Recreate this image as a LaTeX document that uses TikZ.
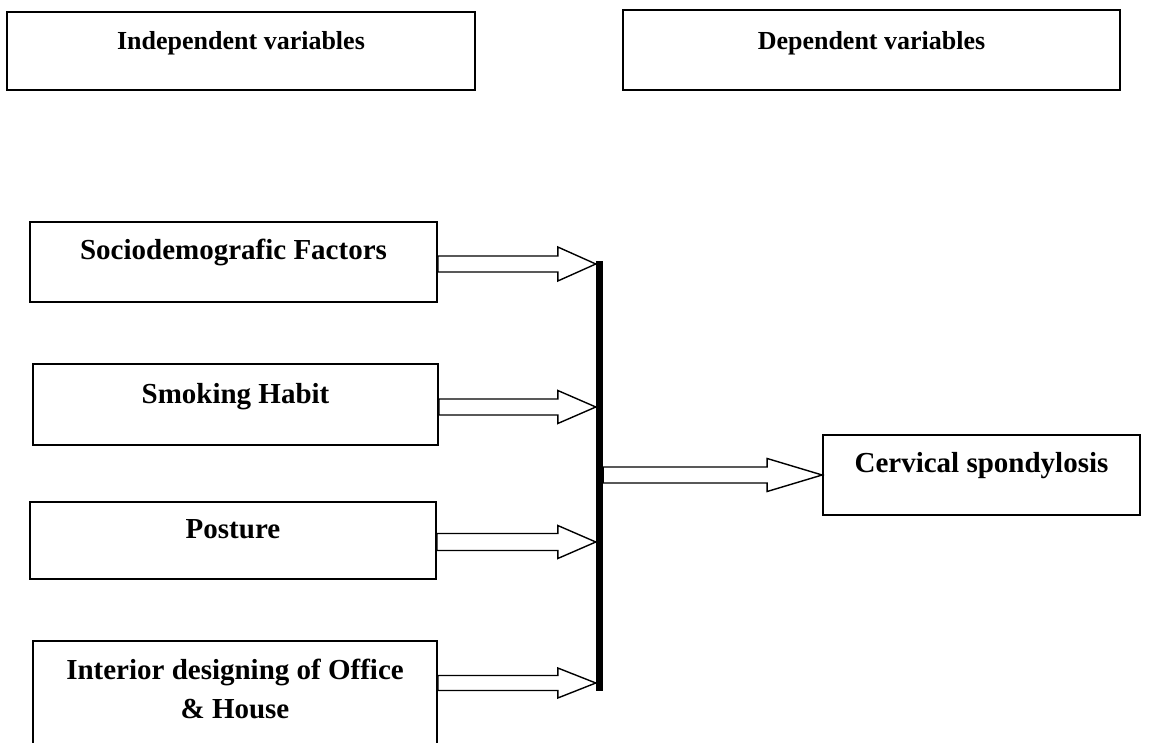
\documentclass[tikz,border=0pt]{standalone}
\usepackage{fontspec}
\setmainfont{Liberation Serif}
\usetikzlibrary{calc}
\tikzset{
  box/.style={draw=black, line width=1.7pt, inner sep=0pt},
  topbox/.style={draw=black, line width=2.5pt, inner sep=0pt},
  lbl/.style={font=\fontsize{29}{39}\selectfont\bfseries, anchor=base, inner sep=0pt, align=center},
  toplbl/.style={font=\fontsize{26}{32}\selectfont\bfseries, anchor=base, inner sep=0pt},
  arr/.style={draw=black, fill=white, line width=1.4pt, line join=miter},
  bar/.style={fill=black, inner sep=0pt, minimum width=7pt, minimum height=430pt}
}
\newcommand\blkarrow[5]{%
  \draw[arr] let \p1=(#1), \p2=(#2) in
    (\x1,\y2+#3) -- (\x2-#5,\y2+#3) -- (\x2-#5,\y2+#4) -- (\x2,\y2)
    -- (\x2-#5,\y2-#4) -- (\x2-#5,\y2-#3) -- (\x1,\y2-#3) -- cycle;}
\begin{document}
\begin{tikzpicture}[x=1pt,y=-1pt]
\useasboundingbox (0,0) rectangle (1165,743);
% top boxes
\node[topbox, minimum width=468pt, minimum height=78pt] (ind) at (241,51) {};
\node[toplbl] (indt) at (241,50) {Independent variables};
\node[topbox, minimum width=497pt, minimum height=80pt] (dep) at (871.5,50) {};
\node[toplbl] (dept) at (871.5,50) {Dependent variables};
% left boxes
\node[box, minimum width=407pt, minimum height=80pt] (soc) at (233.5,262) {};
\node[lbl] (soct) at (233.5,260) {Sociodemografic Factors};
\node[box, minimum width=405pt, minimum height=81pt] (smk) at (235.5,404.5) {};
\node[lbl] (smkt) at (235.5,403) {Smoking Habit};
\node[box, minimum width=406pt, minimum height=77pt] (pos) at (233,540.5) {};
\node[lbl] (post) at (233,538) {Posture};
\node[box, minimum width=404pt, minimum height=130pt] (int) at (235,706) {};
\node[lbl] (intt) at (235,718) {Interior designing of Office\\\& House};
% right box
\node[box, minimum width=317pt, minimum height=80pt] (cer) at (981.5,475) {};
\node[lbl] (cert) at (981.5,472) {Cervical spondylosis};
% bar
\node[bar] (bar) at (599.5,476) {};
\coordinate (tp1) at (bar.west |- 0,264);
\coordinate (tp2) at (bar.west |- 0,407);
\coordinate (tp3) at (bar.west |- 0,542);
\coordinate (tp4) at (bar.west |- 0,683);
\coordinate (bs) at (bar.east |- cer.west);
% arrows
\blkarrow{soc.east}{tp1}{8pt}{17pt}{38pt}
\blkarrow{smk.east}{tp2}{8pt}{16.5pt}{38pt}
\blkarrow{pos.east}{tp3}{8.5pt}{16.5pt}{38pt}
\blkarrow{int.east}{tp4}{7.5pt}{15pt}{38pt}
\blkarrow{bs}{cer.west}{8pt}{16.5pt}{55pt}
\end{tikzpicture}
\end{document}
